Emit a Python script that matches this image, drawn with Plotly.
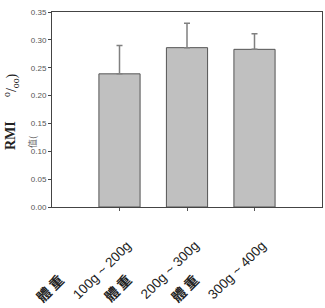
import plotly.graph_objects as go

categories = ["100g ~ 200g", "200g ~ 300g", "300g ~ 400g"]
label_prefix = "體 重"
values = [0.239, 0.286, 0.283]
errors = [0.051, 0.044, 0.028]
y_ticks = [0.00, 0.05, 0.10, 0.15, 0.20, 0.25, 0.30, 0.35]

L, R, T, B = 52, 3, 12, 101
W, H = 325, 308

fig = go.Figure()
fig.add_trace(go.Bar(
    x=categories, y=values, width=0.61,
    marker=dict(color="#c0c0c0", line=dict(color="#555555", width=1)),
    error_y=dict(type="data", array=errors, arrayminus=[0] * len(errors),
                 symmetric=False, color="#808080", thickness=1.5, width=3),
))

annotations = []
for c in categories:
    annotations.append(dict(
        x=c, xref="x", y=0, yref="paper", text=c, textangle=-45,
        showarrow=False, xanchor="center", yanchor="middle",
        xshift=-18, yshift=-63,
        font=dict(family="Liberation Sans, Arial", size=13.5, color="#222222")))
    annotations.append(dict(
        x=c, xref="x", y=0, yref="paper", text="<b>" + label_prefix + "</b>", textangle=-45,
        showarrow=False, xanchor="center", yanchor="middle",
        xshift=-70, yshift=-81,
        font=dict(family="Noto Sans CJK TC", size=14, color="#222222")))

# y-axis title pieces
annotations.append(dict(
    x=0, xref="paper", y=0, yref="paper", text="<b>RMI</b>", textangle=-90,
    showarrow=False, xanchor="center", yanchor="middle",
    xshift=10 - L, yshift=(H - B) - 136,
    font=dict(family="Liberation Serif, Times New Roman", size=14, color="#222222")))
annotations.append(dict(
    x=0, xref="paper", y=0, yref="paper", text="值(", textangle=-90,
    showarrow=False, xanchor="center", yanchor="middle",
    xshift=32 - L, yshift=(H - B) - 142,
    font=dict(family="Noto Sans CJK TC", size=9, color="#666666")))
annotations.append(dict(
    x=0, xref="paper", y=0, yref="paper", text="<sup>o</sup>/<sub>oo</sub>)", textangle=-90,
    showarrow=False, xanchor="center", yanchor="middle",
    xshift=11 - L, yshift=(H - B) - 85,
    font=dict(family="Liberation Serif, Times New Roman", size=14, color="#222222")))

fig.update_layout(
    width=W, height=H,
    margin=dict(l=L, r=R, t=T, b=B, pad=0),
    paper_bgcolor="white", plot_bgcolor="white",
    showlegend=False,
    annotations=annotations,
    xaxis=dict(
        type="category", range=[-1, 3], showticklabels=False,
        ticks="outside", ticklen=3, tickcolor="#555555",
        showline=True, linecolor="#444444", linewidth=1, mirror=True,
        showgrid=False, zeroline=False,
    ),
    yaxis=dict(
        range=[0, 0.35], tickvals=y_ticks,
        ticktext=[f"{v:.2f}" for v in y_ticks],
        ticks="outside", ticklen=3, tickcolor="#444444",
        tickfont=dict(family="Liberation Sans, Arial", size=8, color="#555555"),
        showline=True, linecolor="#444444", linewidth=1, mirror=True,
        showgrid=False, zeroline=False,
    ),
)

fig.write_html("out.html")
